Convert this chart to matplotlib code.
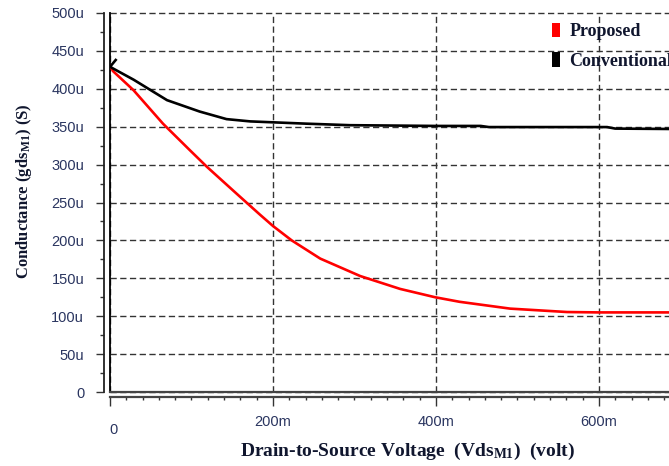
import matplotlib
matplotlib.use("Agg")
import matplotlib.pyplot as plt
from matplotlib.ticker import MultipleLocator, FixedLocator, FuncFormatter
from matplotlib.patches import Patch

# ---- data (x in mV, y in uS) ----
prop_x = [0, 4, 29, 65, 98, 119, 155, 184, 200, 223, 258, 307, 356, 399, 429, 491, 561, 600, 686]
prop_y = [430, 423, 398, 354, 319, 297, 262, 234, 219, 200, 176, 153, 136, 125, 119, 110, 105.5, 105, 105]

conv_x = [7, 0, 29, 70, 110, 143, 172, 241, 294, 400, 455, 465, 610, 620, 686]
conv_y = [438, 429, 412, 385, 370, 360, 357, 354, 352, 351, 351, 349.5, 349.5, 347.5, 347]

series_names = ["Proposed", "Conventional"]
series_colors = ["#ff0000", "#000000"]

y_ticks = [0, 50, 100, 150, 200, 250, 300, 350, 400, 450, 500]
x_ticks = [0, 200, 400, 600]

plt.rcParams['mathtext.fontset'] = 'custom'
plt.rcParams['mathtext.rm'] = 'Liberation Serif:bold'
plt.rcParams['mathtext.it'] = 'Liberation Serif:italic:bold'
plt.rcParams['mathtext.bf'] = 'Liberation Serif:bold'

W, H = 669, 466
fig = plt.figure(figsize=(W / 100, H / 100), dpi=100)
ax = fig.add_axes([110 / W, 74 / H, (W - 110) / W, (392 - 13) / H])

ax.plot(prop_x, prop_y, color=series_colors[0], lw=1.9, zorder=5)
ax.plot(conv_x, conv_y, color=series_colors[1], lw=1.9, zorder=5)

ax.set_xlim(0, 686)
ax.set_ylim(0, 500)

# spines
for s in ["top", "right"]:
    ax.spines[s].set_visible(False)
ax.spines["left"].set_position(("outward", 4.3))
ax.spines["left"].set_linewidth(1.3)
ax.spines["left"].set_color("#222222")
ax.spines["bottom"].set_position(("outward", 3.6))
ax.spines["bottom"].set_linewidth(1.6)
ax.spines["bottom"].set_color("#444444")

# inner frame lines
ax.axvline(0, color="black", lw=1.3, clip_on=False, zorder=4)
ax.axhline(0, color="#444444", lw=1.6, clip_on=False, zorder=4)

# ticks
tick_color = "#2a3560"
ax.yaxis.set_major_locator(FixedLocator(y_ticks))
ax.yaxis.set_minor_locator(MultipleLocator(25))
ax.yaxis.set_major_formatter(FuncFormatter(lambda v, p: "0" if v == 0 else f"{v:.0f}u"))
ax.xaxis.set_major_locator(FixedLocator(x_ticks))
ax.xaxis.set_minor_locator(MultipleLocator(20))
ax.xaxis.set_major_formatter(FuncFormatter(lambda v, p: "" if v == 0 else f"{v:.0f}m"))

ax.tick_params(axis="y", which="major", direction="out", length=5.8, width=1.0,
               color="#333333", pad=8.5, labelsize=10.5, labelcolor=tick_color)
ax.tick_params(axis="y", which="minor", direction="out", length=2.9, width=1.0, color="#333333")
ax.tick_params(axis="x", which="major", direction="out", length=6.7, width=1.0,
               color="#333333", pad=6.0, labelsize=10.5, labelcolor=tick_color)
ax.tick_params(axis="x", which="minor", direction="out", length=2.4, width=1.0, color="#333333")
for lab in ax.get_yticklabels() + ax.get_xticklabels():
    lab.set_fontfamily("Liberation Sans")

fig.text(113 / W, 1 - 430 / H, "0", ha="center", va="center", fontsize=10.5,
         color=tick_color, family="Liberation Sans")

# grid
ax.grid(True, which="major", color="#333333", linestyle=(0, (4.5, 2.5)), lw=1.0, zorder=1)
for gl in ax.get_ygridlines():
    gl.set_clip_on(False)

# labels
label_color = "#10162e"
fig.text(24 / W, 1 - 191 / H, r"Conductance (gds$_{\mathrm{M1}}$) (S)", rotation=90,
         ha="center", va="center", fontsize=12, fontweight="bold",
         family="Liberation Serif", color=label_color)
fig.text(408 / W, 1 - 451 / H, r"Drain-to-Source Voltage  (Vds$_{\mathrm{M1}}$)  (volt)",
         ha="center", va="center", fontsize=14, fontweight="bold",
         family="Liberation Serif", color=label_color)

# legend
handles = [Patch(facecolor=c, edgecolor="none") for c in series_colors]
leg = fig.legend(handles, series_names, loc="upper left",
                 bbox_to_anchor=(552 / W, 1 - 23 / H), bbox_transform=fig.transFigure,
                 frameon=False, handlelength=0.45, handleheight=0.85, handletextpad=0.5,
                 labelspacing=0.65, borderpad=0, borderaxespad=0,
                 prop={"family": "Liberation Serif", "weight": "bold", "size": 13})
for t in leg.get_texts():
    t.set_color(label_color)

fig.savefig("out.png", dpi=100)
